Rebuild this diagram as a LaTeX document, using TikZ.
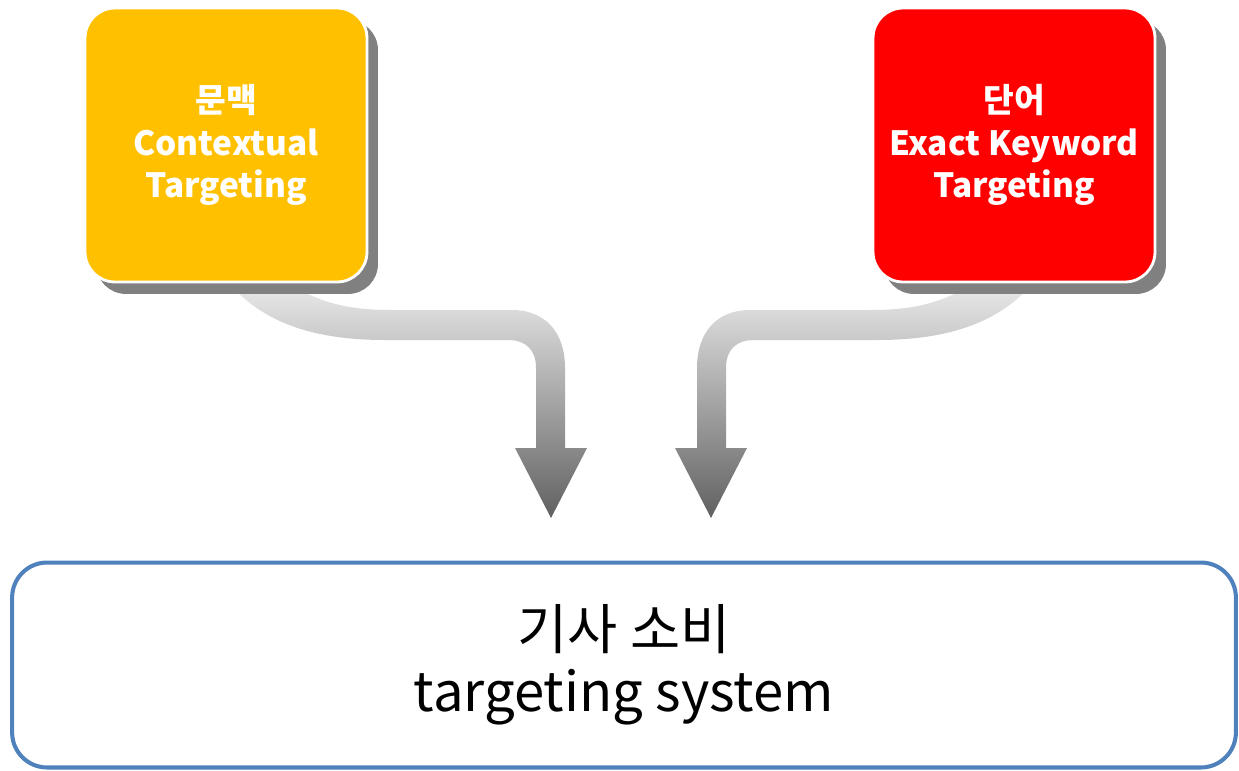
\documentclass[tikz,border=0pt]{standalone}
\usepackage{fontspec}
\setmainfont{Noto Sans CJK KR}
\usetikzlibrary{shadows}

\definecolor{ctxyellow}{RGB}{255,192,0}
\definecolor{kwred}{RGB}{255,0,0}
\definecolor{sysblue}{RGB}{79,129,189}

\begin{document}
\begin{tikzpicture}[
    x=0.02cm, y=-0.02cm,
    topic/.style={draw=white, line width=1.6pt, rounded corners=0.6cm,
        minimum width=5.64cm, minimum height=5.48cm, align=center, text=white,
        font=\fontsize{19}{24}\selectfont\bfseries,
        drop shadow={shadow xshift=0.22cm, shadow yshift=-0.24cm, fill=black!50, opacity=1}},
    system/.style={draw=sysblue, line width=2.3pt, rounded corners=0.7cm, fill=white,
        minimum width=24.48cm, minimum height=4.1cm, align=center,
        font=\fontsize{31}{35}\selectfont},
    curvearrow/.pic={
        \shade[top color=black!8, bottom color=black!62]
            (285,282) .. controls (322,304) and (350,310) .. (392,310) -- (512,310)
            .. controls (545,310) and (565,332) .. (565,368) -- (565,448) -- (587,448)
            -- (551,518) -- (515,448) -- (536,448) -- (536,368)
            .. controls (536,350) and (526,340) .. (508,340) -- (385,340)
            .. controls (312,340) and (262,322) .. (228,282) -- cycle;
    }
]
    \useasboundingbox (0,0) rectangle (1239,770);

    % curved arrows (behind the boxes)
    \pic at (0,0) {curvearrow};
    \pic[xscale=-1] at (1262,0) {curvearrow};

    % the two kinds of targeting
    \node[topic, fill=ctxyellow] (ctx) at (226,145) {문맥\\Contextual\\Targeting};
    \node[topic, fill=kwred] (kw) at (1014,145) {단어\\Exact Keyword\\Targeting};

    % system box
    \node[system] (sys) at (624,665) {기사 소비\\targeting system};
\end{tikzpicture}
\end{document}
